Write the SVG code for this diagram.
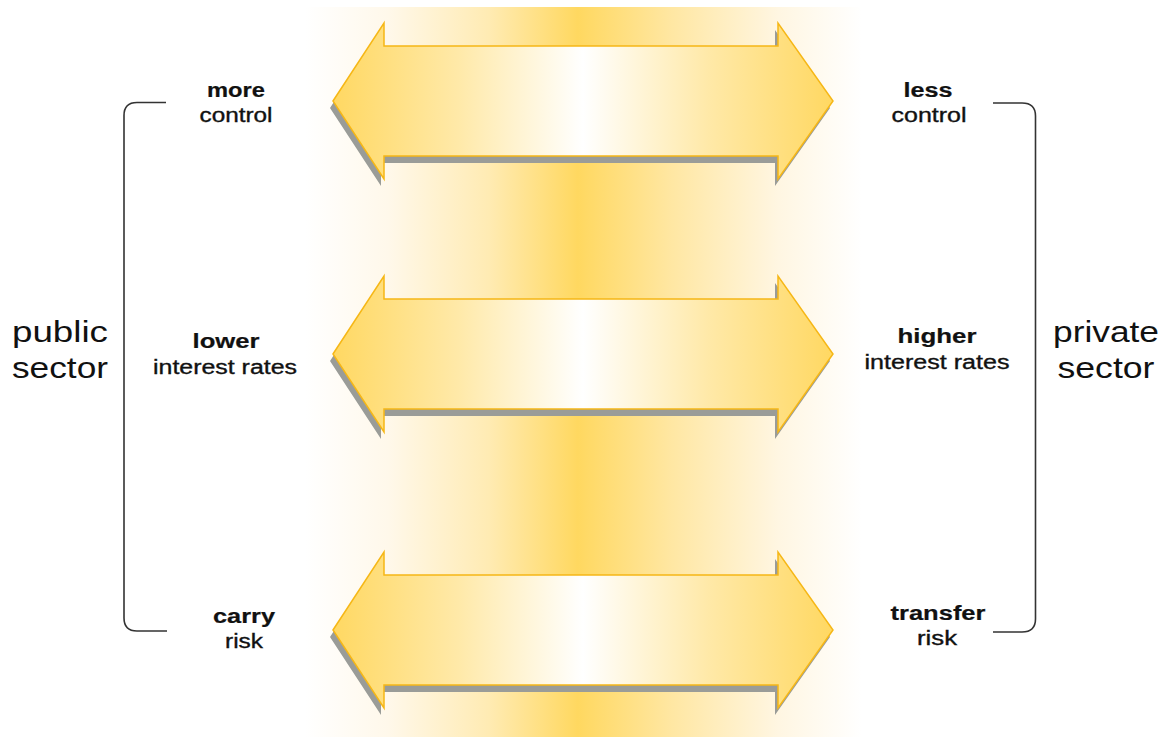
<svg xmlns="http://www.w3.org/2000/svg" xmlns:xlink="http://www.w3.org/1999/xlink" width="1171" height="737" viewBox="0 0 1171 737">
  <style>
    .lbl { font-family: "Liberation Sans", Arial, sans-serif; font-size: 20px; fill: #111; text-anchor: middle; stroke: #111; stroke-width: 0.35; }
    .b { font-weight: bold; stroke-width: 0.2; }
    .big { font-family: "Liberation Sans", Arial, sans-serif; font-size: 29px; fill: #111; text-anchor: middle; }
    .brk { fill: none; stroke: #333; stroke-width: 1.6; }
    .arrow { fill: url(#arrowGrad); stroke: #F6B716; stroke-width: 1.5; stroke-linejoin: miter; }
    .shadow { fill: #9A9C98; }
  </style>
  <defs>
    <linearGradient id="bandGrad" gradientUnits="userSpaceOnUse" x1="305" y1="0" x2="862" y2="0">
      <stop offset="0" stop-color="#FFFFFF"/>
      <stop offset="0.15" stop-color="#FFF8EA"/>
      <stop offset="0.33" stop-color="#FFEBB3"/>
      <stop offset="0.49" stop-color="#FFD860"/>
      <stop offset="0.66" stop-color="#FFE7A3"/>
      <stop offset="0.85" stop-color="#FFF6E2"/>
      <stop offset="1" stop-color="#FFFFFF"/>
    </linearGradient>
    <linearGradient id="arrowGrad" gradientUnits="userSpaceOnUse" x1="333" y1="0" x2="833" y2="0">
      <stop offset="0" stop-color="#FFD862"/>
      <stop offset="0.25" stop-color="#FFE9A8"/>
      <stop offset="0.5" stop-color="#FFFFFF"/>
      <stop offset="0.75" stop-color="#FFE9A8"/>
      <stop offset="1" stop-color="#FFD862"/>
    </linearGradient>
    <path id="arrowShape" d="M333,0 L384,-78 L384,-55 L778,-55 L778,-78 L833,0 L778,78 L778,55 L384,55 L384,78 Z"/>
  </defs>

  <rect x="0" y="0" width="1171" height="737" fill="#FFFFFF"/>
  <rect id="band" x="305" y="7" width="557" height="730" fill="url(#bandGrad)"/>

  <g id="connectors">
    <g id="arrow-control" transform="translate(0,101)">
      <use xlink:href="#arrowShape" class="shadow" transform="translate(-3,7)"/>
      <use xlink:href="#arrowShape" class="arrow"/>
    </g>
    <g id="arrow-rates" transform="translate(0,354)">
      <use xlink:href="#arrowShape" class="shadow" transform="translate(-3,7)"/>
      <use xlink:href="#arrowShape" class="arrow"/>
    </g>
    <g id="arrow-risk" transform="translate(0,630)">
      <use xlink:href="#arrowShape" class="shadow" transform="translate(-3,7)"/>
      <use xlink:href="#arrowShape" class="arrow"/>
    </g>
  </g>

  <g id="public-sector">
    <path class="brk" d="M166,102.5 L137,102.5 Q124,102.5 124,115.5 L124,618 Q124,631 137,631 L167,631"/>
    <text class="big" x="60" y="342" textLength="96" lengthAdjust="spacingAndGlyphs">public</text>
    <text class="big" x="60" y="378" textLength="96" lengthAdjust="spacingAndGlyphs">sector</text>
  </g>

  <g id="private-sector">
    <path class="brk" d="M993,103 L1022,103 Q1035.5,103 1035.5,116 L1035.5,619 Q1035.5,632 1022,632 L993,632"/>
    <text class="big" x="1106" y="342" textLength="106" lengthAdjust="spacingAndGlyphs">private</text>
    <text class="big" x="1106" y="378" textLength="97" lengthAdjust="spacingAndGlyphs">sector</text>
  </g>

  <g id="more-control">
    <text class="lbl b" x="236" y="97" textLength="58" lengthAdjust="spacingAndGlyphs">more</text>
    <text class="lbl" x="236" y="122" textLength="73" lengthAdjust="spacingAndGlyphs">control</text>
  </g>
  <g id="less-control">
    <text class="lbl b" x="928" y="97" textLength="49" lengthAdjust="spacingAndGlyphs">less</text>
    <text class="lbl" x="929" y="122" textLength="75" lengthAdjust="spacingAndGlyphs">control</text>
  </g>
  <g id="lower-rates">
    <text class="lbl b" x="226" y="348" textLength="67" lengthAdjust="spacingAndGlyphs">lower</text>
    <text class="lbl" x="225" y="374" textLength="144" lengthAdjust="spacingAndGlyphs">interest rates</text>
  </g>
  <g id="higher-rates">
    <text class="lbl b" x="937" y="343" textLength="79" lengthAdjust="spacingAndGlyphs">higher</text>
    <text class="lbl" x="937" y="369" textLength="145" lengthAdjust="spacingAndGlyphs">interest rates</text>
  </g>
  <g id="carry-risk">
    <text class="lbl b" x="244" y="623" textLength="62" lengthAdjust="spacingAndGlyphs">carry</text>
    <text class="lbl" x="244" y="648" textLength="38" lengthAdjust="spacingAndGlyphs">risk</text>
  </g>
  <g id="transfer-risk">
    <text class="lbl b" x="938" y="620" textLength="95" lengthAdjust="spacingAndGlyphs">transfer</text>
    <text class="lbl" x="937" y="645" textLength="40" lengthAdjust="spacingAndGlyphs">risk</text>
  </g>
</svg>
